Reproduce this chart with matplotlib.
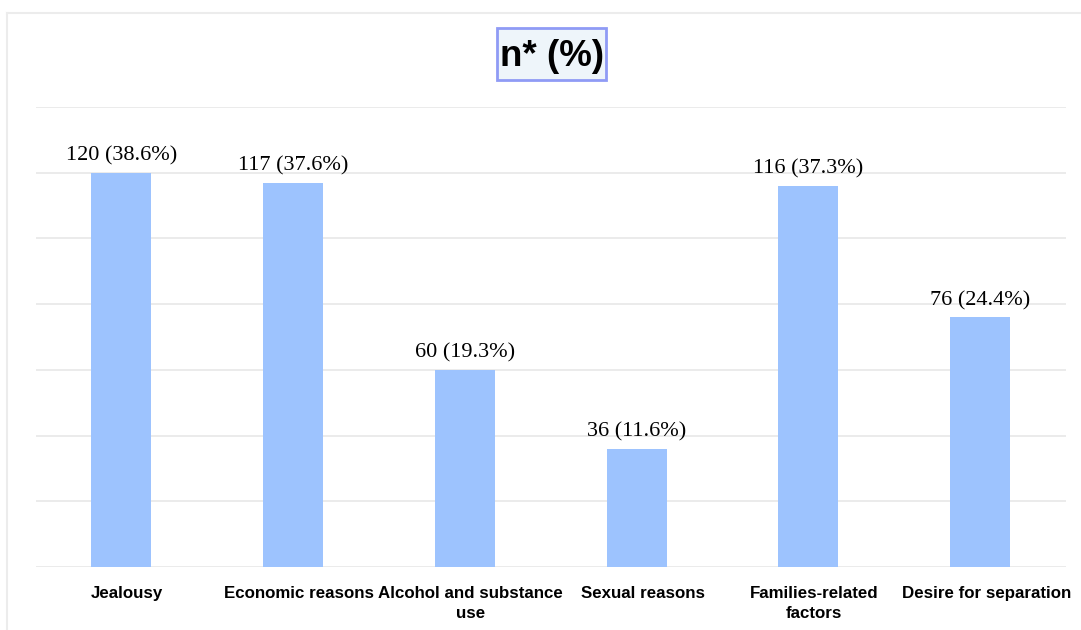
import matplotlib
matplotlib.use("Agg")
import matplotlib.pyplot as plt
from matplotlib.lines import Line2D
from matplotlib.patches import Rectangle
from matplotlib.transforms import ScaledTranslation

categories = [
    "Jealousy",
    "Economic reasons",
    "Alcohol and substance\nuse",
    "Sexual reasons",
    "Families-related\nfactors",
    "Desire for separation",
]
counts = [120, 117, 60, 36, 116, 76]
percents = [38.6, 37.6, 19.3, 11.6, 37.3, 24.4]
y_ticks = [0, 20, 40, 60, 80, 100, 120, 140]

W, H = 1081, 630
fig = plt.figure(figsize=(W / 100, H / 100), dpi=100)
fig.patch.set_facecolor("white")

# outer frame (top and left edges)
fig.add_artist(Line2D([7.5 / W, 7.5 / W], [0, 1 - 13 / H], transform=fig.transFigure,
                      color="#ececec", lw=1.5))
fig.add_artist(Line2D([7.5 / W, 1], [1 - 13 / H, 1 - 13 / H], transform=fig.transFigure,
                      color="#ececec", lw=1.5))

left, right = 35.5 / W, 1066 / W
bottom, top = 1 - 567 / H, 1 - 107 / H
ax = fig.add_axes([left, bottom, right - left, top - bottom])

x = list(range(len(categories)))
bars = ax.bar(x, counts, width=0.35, color="#9dc3fe", zorder=3)

ax.set_xlim(-0.5, len(categories) - 0.5)
ax.set_ylim(0, 140)
ax.set_yticks(y_ticks)
ax.yaxis.grid(True, color="#e8e8e8", lw=1.2, zorder=0)
ax.set_yticklabels([])
ax.tick_params(axis="both", length=0)
for s in ax.spines.values():
    s.set_visible(False)

ax.set_xticks(x)
ax.set_xticklabels(categories, fontsize=12.2, fontweight="bold",
                   family="Liberation Sans", linespacing=1.4)
ax.tick_params(axis="x", pad=14)
shift = ScaledTranslation(6 / 100, 0, fig.dpi_scale_trans)
for lbl in ax.get_xticklabels():
    lbl.set_verticalalignment("top")
    lbl.set_transform(lbl.get_transform() + shift)

for xi, c, p in zip(x, counts, percents):
    ax.annotate(f"{c} ({p}%)", (xi, c), xytext=(0, 5), textcoords="offset points",
                ha="center", va="bottom", fontsize=16, family="Liberation Serif")

# title box
fig.add_artist(Rectangle((497 / W, 1 - 80 / H), 109 / W, 52 / H, transform=fig.transFigure,
                         facecolor="#eef5fa", edgecolor="#8f9bf5", linewidth=2))
fig.text(552 / W, 1 - 56 / H, "n* (%)", ha="center", va="center", fontsize=26.5,
         fontweight="bold", family="Liberation Sans")

fig.savefig("out.png", dpi=100, facecolor="white")
